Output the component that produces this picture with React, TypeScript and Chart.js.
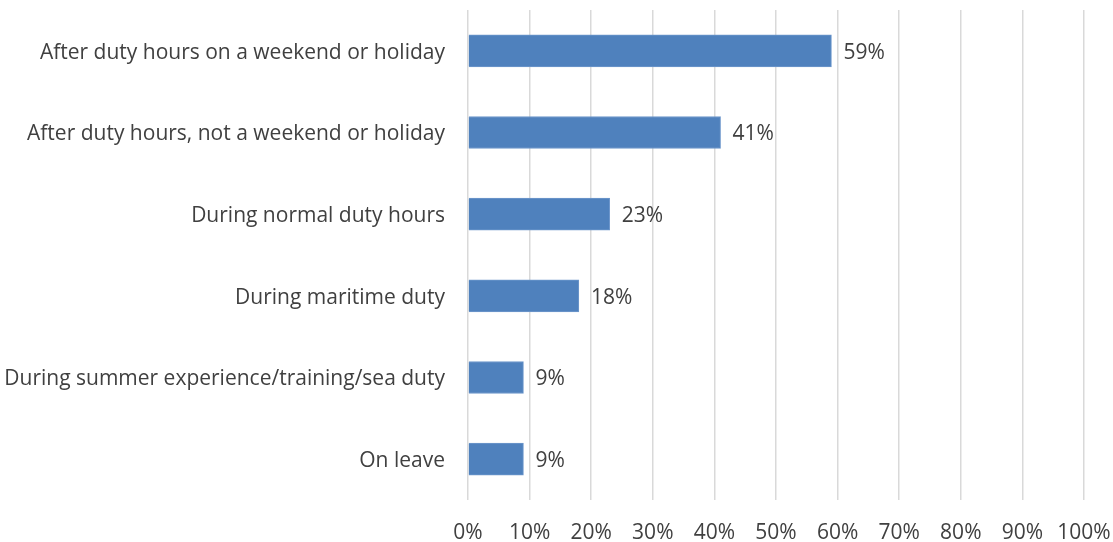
import React, { useEffect, useRef } from "react";
import { Chart, registerables } from "chart.js";

Chart.register(...registerables);

const categories = [
  "After duty hours on a weekend or holiday",
  "After duty hours, not a weekend or holiday",
  "During normal duty hours",
  "During maritime duty",
  "During summer experience/training/sea duty",
  "On leave",
];
const values = [59, 41, 23, 18, 9, 9];
const xTicks = [0, 10, 20, 30, 40, 50, 60, 70, 80, 90, 100];

const FONT = "'Open Sans', sans-serif";
const TEXT = "#404040";
const FS = 21;

const labelPlugin = {
  id: "barLabels",
  afterDatasetsDraw(chart: any) {
    const ctx = chart.ctx;
    const meta = chart.getDatasetMeta(0);
    ctx.save();
    ctx.font = `${FS}px ${FONT}`;
    ctx.fillStyle = TEXT;
    ctx.textAlign = "left";
    ctx.textBaseline = "middle";
    meta.data.forEach((bar: any, i: number) => {
      ctx.fillText(values[i] + "%", bar.x + 12, bar.y + 2);
    });
    ctx.restore();
  },
};

export default function App() {
  const ref = useRef<HTMLCanvasElement>(null);
  useEffect(() => {
    document.body.style.margin = "0";
    const chart = new Chart(ref.current!, {
      type: "bar",
      data: {
        labels: categories,
        datasets: [
          {
            data: values,
            backgroundColor: "#4f81bd",
            borderColor: "#6f98cc",
            borderWidth: 1,
            barThickness: 32,
          },
        ],
      },
      options: {
        indexAxis: "y",
        animation: false,
        responsive: false,
        maintainAspectRatio: false,
        layout: { padding: { top: 10, right: 29, bottom: 0, left: 0 } },
        plugins: { legend: { display: false }, tooltip: { enabled: false } },
        scales: {
          x: {
            min: 0,
            max: 100,
            afterBuildTicks(scale: any) {
              scale.ticks = xTicks.map((v) => ({ value: v }));
            },
            afterFit(scale: any) {
              scale.height = 42;
              scale.paddingLeft = 0;
              scale.paddingRight = 0;
              scale.paddingTop = 0;
              scale.paddingBottom = 0;
            },
            grid: { color: "#d9d9d9", lineWidth: 1.5, drawTicks: false },
            border: { display: false },
            ticks: {
              padding: 20,
              color: TEXT,
              font: { family: FONT, size: FS },
              callback: (v: any) => v + "%",
            },
          },
          y: {
            afterFit(scale: any) {
              scale.width = 468;
              scale.paddingLeft = 0;
              scale.paddingRight = 0;
              scale.paddingTop = 0;
              scale.paddingBottom = 0;
            },
            grid: { display: false, drawTicks: false },
            border: { display: false },
            ticks: {
              padding: 23,
              labelOffset: 2,
              color: TEXT,
              font: { family: FONT, size: FS },
            },
          },
        },
      },
      plugins: [labelPlugin],
    });
    return () => chart.destroy();
  }, []);
  return (
    <div style={{ width: 1113, height: 542 }}>
      <canvas ref={ref} width={1113} height={542} />
    </div>
  );
}
